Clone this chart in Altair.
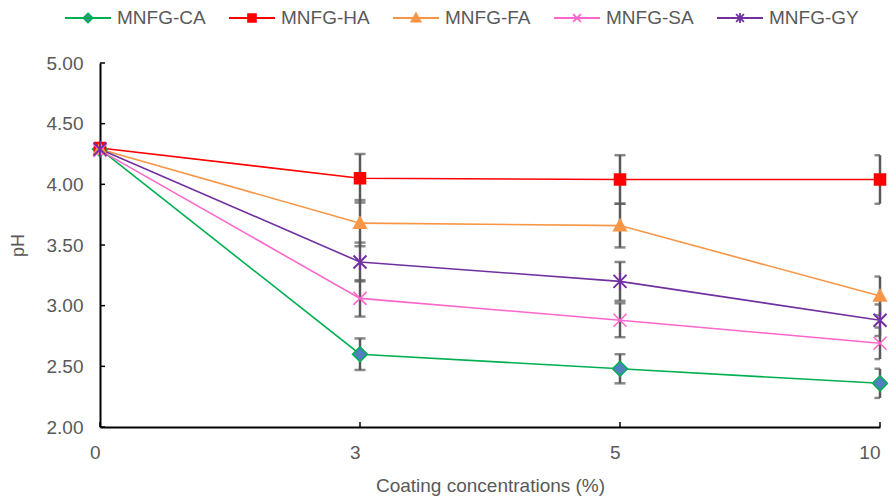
import altair as alt
import pandas as pd

# ---- data ----
concentrations = ["0", "3", "5", "10"]
series_names = ["MNFG-CA", "MNFG-HA", "MNFG-FA", "MNFG-SA", "MNFG-GY"]

ph_ca = [4.29, 2.60, 2.48, 2.36]
ph_ha = [4.30, 4.05, 4.04, 4.04]
ph_fa = [4.29, 3.68, 3.66, 3.08]
ph_sa = [4.28, 3.06, 2.88, 2.69]
ph_gy = [4.29, 3.36, 3.20, 2.88]

sd_ca = [0.0, 0.13, 0.12, 0.12]
sd_ha = [0.0, 0.20, 0.20, 0.20]
sd_fa = [0.0, 0.19, 0.18, 0.16]
sd_sa = [0.0, 0.15, 0.14, 0.13]
sd_gy = [0.0, 0.16, 0.16, 0.13]

y_tick_values = [2.0, 2.5, 3.0, 3.5, 4.0, 4.5, 5.0]

# ---- styles ----
line_colors = ["#00b050", "#ff0000", "#f79646", "#ff66cc", "#7030a0"]
fill_colors = ["#4f81bd", "#ff0000", "#f79646", "#ff66cc", "#7030a0"]
marker_paths = [
    "M0,-1L1,0L0,1L-1,0Z",
    "M-1,-1H1V1H-1Z",
    "M0,-1L1,0.8L-1,0.8Z",
    "M-1,-1L1,1M-1,1L1,-1",
    "M-1,-1L1,1M-1,1L1,-1M0,-1.3V1.3",
]
marker_sizes = [225, 121, 160, 169, 169]
marker_filled = [True, True, True, False, False]
legend_paths = [
    "M-1,0H1M0,-0.2L0.2,0L0,0.2L-0.2,0Z",
    "M-1,0H1M-0.17,-0.17H0.17V0.17H-0.17Z",
    "M-1,0H1M0,-0.2L0.2,0.16L-0.2,0.16Z",
    "M-1,0H1M-0.17,-0.17L0.17,0.17M-0.17,0.17L0.17,-0.17",
    "M-1,0H1M-0.17,-0.17L0.17,0.17M-0.17,0.17L0.17,-0.17M0,-0.22V0.22",
]

FONT = "Liberation Sans"
TXT = "#595959"
W, H = 780, 364

all_ph = [ph_ca, ph_ha, ph_fa, ph_sa, ph_gy]
all_sd = [sd_ca, sd_ha, sd_fa, sd_sa, sd_gy]
rows = []
for name, phs, sds in zip(series_names, all_ph, all_sd):
    for c, v, e in zip(concentrations, phs, sds):
        rows.append({"conc": c, "series": name, "ph": v, "sd": e,
                     "lo": v - e, "hi": v + e})
df = pd.DataFrame(rows)

x_scale = alt.Scale(domain=concentrations, type="point", padding=0)
x_enc = alt.X("conc:O", scale=x_scale,
              axis=alt.Axis(title="Coating concentrations (%)", labelAngle=0, ticks=False,
                            domainColor="black", domainWidth=2,
                            labelFont=FONT, labelFontSize=19, labelColor=TXT, labelPadding=25,
                            titleFont=FONT, titleFontSize=19, titleColor=TXT,
                            titleFontWeight="normal", titlePadding=14))
y_scale = alt.Scale(domain=[2, 5], nice=False, zero=False)
y_enc = alt.Y("ph:Q", scale=y_scale,
              axis=alt.Axis(title="pH", values=y_tick_values, format=".2f", ticks=False,
                            grid=False, domainColor="black", domainWidth=2,
                            labelFont=FONT, labelFontSize=19, labelColor=TXT, labelPadding=17,
                            titleFont=FONT, titleFontSize=18, titleColor=TXT,
                            titleFontWeight="normal", titlePadding=19))

stroke_scale = alt.Scale(domain=series_names, range=line_colors)
fill_scale = alt.Scale(domain=series_names, range=fill_colors)
shape_scale = alt.Scale(domain=series_names, range=legend_paths)

leg = alt.Legend(title=None, orient="none", legendX=-36, legendY=-69, direction="horizontal",
                 labelFont=FONT, labelFontSize=19, labelColor=TXT, labelOffset=5,
                 columnPadding=19, symbolSize=2116, symbolStrokeWidth=1.8)

base = alt.Chart(df)

err_df = df[df["sd"] > 0]
err_rule = alt.Chart(err_df).mark_rule(color="#595959", strokeWidth=2.5).encode(
    x=alt.X("conc:O", scale=x_scale),
    y=alt.Y("lo:Q", scale=y_scale), y2="hi:Q")
cap_lo = alt.Chart(err_df).mark_tick(color="#595959", size=11, thickness=2.5, clip=True).encode(
    x="conc:O", y=alt.Y("lo:Q", scale=y_scale))
cap_hi = alt.Chart(err_df).mark_tick(color="#595959", size=11, thickness=2.5, clip=True).encode(
    x="conc:O", y=alt.Y("hi:Q", scale=y_scale))

lines = base.mark_line(strokeWidth=1.6).encode(
    x=x_enc, y=y_enc,
    stroke=alt.Stroke("series:N", scale=stroke_scale, legend=None),
    detail="series:N")

marker_layers = []
for i, name in enumerate(series_names):
    if marker_filled[i]:
        mk = alt.Chart(df).transform_filter(alt.datum.series == name).mark_point(
            shape=marker_paths[i], size=marker_sizes[i], filled=True, opacity=1,
            fill=fill_colors[i], stroke=line_colors[i], strokeWidth=1.5)
    else:
        mk = alt.Chart(df).transform_filter(alt.datum.series == name).mark_point(
            shape=marker_paths[i], size=marker_sizes[i], filled=False, opacity=1,
            stroke=line_colors[i], strokeWidth=2 if i == 4 else 1.6)
    marker_layers.append(mk.encode(x="conc:O", y="ph:Q"))

# legend-only layer: sits at the first concentration, drawn at a negligible size
legend_layer = base.transform_filter(alt.datum.conc == concentrations[0]).mark_point(
    filled=True, strokeWidth=1.8, opacity=1, size=1).encode(
    x="conc:O", y="ph:Q",
    shape=alt.Shape("series:N", scale=shape_scale, legend=leg),
    fill=alt.Fill("series:N", scale=fill_scale, legend=leg),
    stroke=alt.Stroke("series:N", scale=stroke_scale, legend=leg))

x_ticks = alt.Chart(pd.DataFrame({"conc": concentrations})).mark_rule(
    color="black", strokeWidth=1.5).encode(x="conc:O", y=alt.value(H), y2=alt.value(H - 5))
y_ticks = alt.Chart(pd.DataFrame({"v": y_tick_values})).mark_rule(
    color="black", strokeWidth=1.5).encode(y=alt.Y("v:Q", scale=y_scale), x=alt.value(0), x2=alt.value(5))

chart = alt.layer(legend_layer, err_rule, cap_lo, cap_hi, lines, *marker_layers, x_ticks, y_ticks).properties(
    width=W, height=H,
    autosize=alt.AutoSizeParams(type="none"),
    padding={"left": 92, "top": 55, "right": 8, "bottom": 72},
    background="white",
).configure_view(stroke=None)

chart.save("out.html", embed_options={"renderer": "svg", "actions": False})
